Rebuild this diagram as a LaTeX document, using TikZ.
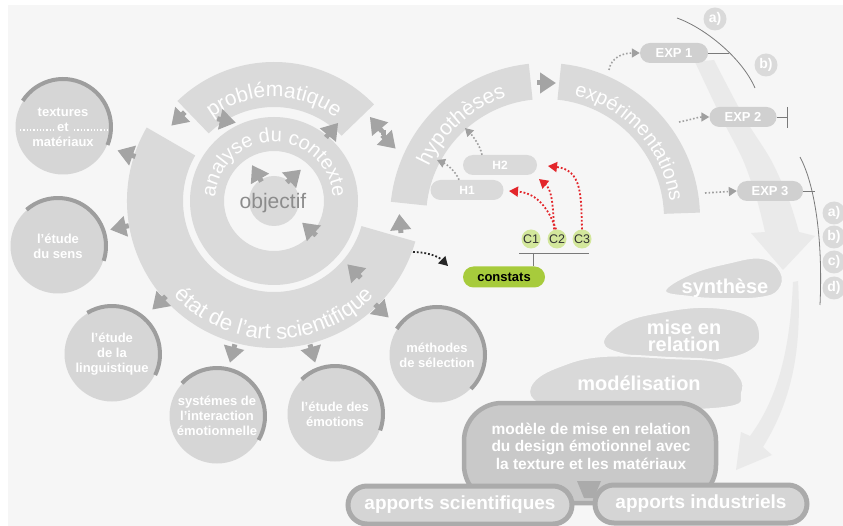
\documentclass[tikz,border=0pt]{standalone}
\usepackage{fontspec}
\setmainfont{Liberation Sans}
\usetikzlibrary{arrows.meta,decorations.text,shapes.misc,calc}
\definecolor{bgc}{HTML}{F6F6F6}
\definecolor{ringc}{HTML}{DADADA}
\definecolor{circc}{HTML}{D6D6D6}
\definecolor{accentc}{HTML}{9E9E9E}
\definecolor{arrc}{HTML}{A4A4A4}
\definecolor{pillc}{HTML}{D0D0D0}
\definecolor{blobc}{HTML}{D9D9D9}
\definecolor{modfill}{HTML}{C9C9C9}
\definecolor{modline}{HTML}{ABABAB}
\definecolor{appfill}{HTML}{D5D5D5}
\definecolor{lightarr}{HTML}{EAEAEA}
\definecolor{objc}{HTML}{8C8C8C}
\definecolor{redc}{HTML}{E3262B}
\definecolor{greenc}{HTML}{A7CB3C}
\definecolor{lgreen}{HTML}{D3E79C}
\definecolor{linec}{HTML}{7A7A7A}
\definecolor{dotc}{HTML}{A0A0A0}
\newcommand{\myfs}[2]{\fontsize{#1}{#2}\selectfont}
\newcommand{\garr}[3]{\draw[garrow,shift={(#1,#2)},rotate=#3] (-11,0) -- (8,0);}
\begin{document}
\begin{tikzpicture}[x=1pt,y=-1pt,
  garrow/.style={arrc,line width=5pt,-{Triangle[width=20pt,length=16pt]}},
  circlabel/.style={circle,fill=circc,minimum size=95pt,inner sep=0pt,text=white,font=\bfseries\myfs{13}{15},align=center},
  accarc/.style={accentc,line width=4pt},
  pill/.style={rounded rectangle,fill=pillc,text=white,font=\bfseries\myfs{13}{13},inner sep=0pt,minimum height=20pt},
  gdot/.style={dotc,line width=1.6pt,dotted,-{Triangle[width=9pt,length=8pt]}},
  rdot/.style={redc,line width=1.8pt,dotted,-{Triangle[width=10pt,length=9pt]}},
  bdot/.style={black!85,line width=1.8pt,dotted,-{Triangle[width=10pt,length=9pt]}},
  thinl/.style={linec,line width=0.8pt},
  lettc/.style={circle,fill=ringc,minimum size=23pt,inner sep=0pt,text=white,font=\bfseries\myfs{14}{14}},
  blobtext/.style={text=white,font=\bfseries\myfs{20}{17},align=center,inner sep=0pt},
  appbox/.style={rounded rectangle,draw=modline,line width=5pt,fill=appfill,minimum height=38pt,text=white,font=\bfseries\myfs{19}{19},inner sep=0pt},
  blob/.style={fill=blobc,draw=bgc,line width=2pt}
]
\useasboundingbox (0,0) rectangle (843,526);
\fill[bgc] (0,0) rectangle (843,526);
\fill[white] (0,0) rectangle (843,5);
\fill[white] (0,0) rectangle (8,526);

% light arrows on the right
\fill[lightarr] plot[smooth] coordinates {(695,62) (721,117) (743,160) (757,200) (765,232)} -- (751,233) -- (783,270) -- (815,236) -- (799,232) -- plot[smooth] coordinates {(799,232) (789,200) (771,160) (744,117) (714,60)} -- cycle;
\fill[lightarr] (798,281) .. controls (802,350) and (792,400) .. (763,447) -- (772,455) -- (736,470) -- (741,432) -- (750,436) .. controls (778,398) and (790,350) .. (793,282) -- cycle;

% concentric rings
\begin{scope}[shift={(274,201)}]
  \fill[ringc] (0,0) circle[radius=25];
  \fill[ringc,even odd rule] (0,0) circle[radius=84] (0,0) circle[radius=50];
  \fill[ringc] (-134:139) arc[start angle=-134,end angle=-44,radius=139] -- (-44:94) arc[start angle=-44,end angle=-134,radius=94] -- cycle;
  \fill[ringc] (-150:147) arc[start angle=-150,end angle=-344,radius=147] -- (-344:91) arc[start angle=-344,end angle=-150,radius=91] -- cycle;
  \path[decorate,decoration={text along path,text align=center,text={|\myfs{21}{21}\color{white}|problématique}}] (-140:104) arc[start angle=-140,end angle=-40,radius=104];
  \path[decorate,decoration={text along path,text align=center,text={|\myfs{20}{20}\color{white}|analyse du contexte}}] (-190:59) arc[start angle=-190,end angle=10,radius=59];
  \path[decorate,decoration={text along path,text align=center,text={|\myfs{22}{22}\color{white}|état de l’art scientifique}}] (-200:138) arc[start angle=-200,end angle=-340,radius=138];
\end{scope}
\node[text=objc,font=\myfs{21}{21},inner sep=0pt] (obj) at (273,203) {objectif};

% hypotheses / experimentations arc
\begin{scope}[shift={(545,218)}]
  \fill[ringc] (-174:155) arc[start angle=-174,end angle=-96,radius=155] -- (-96:119) arc[start angle=-96,end angle=-174,radius=119] -- cycle;
  \fill[ringc] (-84:155) arc[start angle=-84,end angle=-2,radius=155] -- (-2:119) arc[start angle=-2,end angle=-84,radius=119] -- cycle;
  \path[decorate,decoration={text along path,text align=center,text={|\myfs{21}{21}\color{white}|hypothèses}}] (-176:127) arc[start angle=-176,end angle=-88,radius=127];
  \path[decorate,decoration={text along path,text align=center,text={|\myfs{20}{20}\color{white}|expérimentations}}] (-86:126) arc[start angle=-86,end angle=2,radius=126];
\end{scope}

% satellite circles
\node[circlabel] (tex) at (63,127) {textures\\et\\matériaux};
\node[circlabel] (sens) at (58,246) {l’étude\\du sens};
\node[circlabel] (ling) at (112,354) {l’étude\\de la\\linguistique};
\node[circlabel] (sys) at (217,416) {systémes de\\l’interaction\\émotionnelle};
\node[circlabel] (emo) at (335,414) {l’étude des\\émotions};
\node[circlabel] (meth) at (437,355) {méthodes\\de sélection};
\draw[white,line width=1.3pt,dotted] (20,130) -- (54,130) (74,130) -- (109,130);
\draw[accarc] (tex.center) ++(-147:48) arc[start angle=-147,end angle=22,radius=48];
\draw[accarc] (sens.center) ++(-131:48) arc[start angle=-131,end angle=18,radius=48];
\draw[accarc] (ling.center) ++(-121:48) arc[start angle=-121,end angle=26,radius=48];
\draw[accarc] (sys.center) ++(-137:48) arc[start angle=-137,end angle=30,radius=48];
\draw[accarc] (emo.center) ++(-134:48) arc[start angle=-134,end angle=20,radius=48];
\draw[accarc] (meth.center) ++(-147:48) arc[start angle=-147,end angle=45,radius=48];

% grey triangle arrows
\garr{125}{153}{161}
\garr{118}{228}{192}
\garr{158}{304}{224}
\garr{232}{355}{255}
\garr{313}{355}{286}
\garr{383}{312}{316}
\garr{177}{120}{225}
\garr{228}{121}{-12}
\garr{333}{129}{50}
\garr{375}{123}{130}
\garr{390}{143}{-45}
\fill[arrc] (381,130) rectangle (386,135);
\garr{256}{172}{120}
\garr{295}{175}{42}
\garr{308}{228}{138}
\garr{353}{270}{135}
\garr{400}{222}{95}
\garr{548}{83}{0}

% hypotheses pills, constats
\node[pill,fill=ringc,minimum width=73pt,font=\bfseries\myfs{12}{12}] (h1) at (467,190) {H1};
\node[pill,fill=ringc,minimum width=74pt,font=\bfseries\myfs{12}{12}] (h2) at (500,165) {H2};
\node[rounded rectangle,fill=greenc,minimum width=82pt,minimum height=21pt,inner sep=0pt,font=\bfseries\myfs{13}{13}] (const) at (504,277) {constats};
\node[circle,fill=lgreen,minimum size=19pt,inner sep=0pt,font=\myfs{12.5}{12.5},text=black!80] (c1) at (531,239) {C1};
\node[circle,fill=lgreen,minimum size=19pt,inner sep=0pt,font=\myfs{12.5}{12.5},text=black!80] (c2) at (557,239) {C2};
\node[circle,fill=lgreen,minimum size=19pt,inner sep=0pt,font=\myfs{12.5}{12.5},text=black!80] (c3) at (582,239) {C3};
\coordinate (brl) at (519,253);
\coordinate (brr) at (589,253);
\coordinate (brv) at (533,253);
\draw[thinl] (brl) -- (brr);
\draw[thinl] (brv) -- (brv |- const.north);

\coordinate (h1t) at (437,160);
\coordinate (h2t) at (465,128);
\draw[gdot] ([xshift=-8pt]h1.north) .. controls (455,170) and (446,164) .. (h1t);
\draw[gdot] ([xshift=-18pt]h2.north) .. controls (480,145) and (472,135) .. (h2t);
\coordinate (r1) at (509,191);
\coordinate (r2) at (539,179);
\coordinate (r3) at (548,166);
\draw[rdot] ([xshift=-1pt]c2.north) .. controls (549,210) and (538,193) .. (r1);
\draw[rdot] ([xshift=-3pt]c2.north) .. controls (553,205) and (552,190) .. (r2);
\draw[rdot] (c3.north) .. controls (581,195) and (582,170) .. (r3);
\coordinate (bk1) at (413,252);
\coordinate (bk2) at (448,266);
\draw[bdot] (bk1) .. controls (426,252) and (438,256) .. (bk2);

% experiments
\node[pill,minimum width=68pt] (exp1) at (674,53) {EXP 1};
\node[pill,minimum width=67pt] (exp2) at (743,117) {EXP 2};
\node[pill,minimum width=66pt] (exp3) at (770,191) {EXP 3};
\coordinate (e1s) at (609,70);
\coordinate (e2s) at (679,122);
\coordinate (e3s) at (705,193);
\draw[gdot] (e1s) .. controls (611,58) and (622,53) .. (exp1.west);
\draw[gdot] (e2s) .. controls (690,120) and (698,117) .. (exp2.west);
\draw[gdot] (e3s) -- (exp3.west);
\coordinate (arc1) at (729,53);
\coordinate (t2) at (787,117);
\coordinate (arc3) at (815,191);
\coordinate (t2a) at (787,107);
\coordinate (t2b) at (787,128);
\draw[thinl] (exp1.east) -- (arc1);
\draw[thinl] (exp2.east) -- (t2);
\draw[thinl] (t2a) -- (t2b);
\draw[thinl] (exp3.east) -- (arc3);
\draw[thinl] (677,18) .. controls (705,28) and (742,58) .. (755,88);
\draw[thinl] (800,157) .. controls (815,185) and (823,240) .. (820,305);
\node[lettc] (la) at (715,19) {a)};
\node[lettc] (lb) at (766,65) {b)};
\node[lettc] (ra) at (834,213) {a)};
\node[lettc] (rb) at (834,237) {b)};
\node[lettc] (rc) at (834,262) {c)};
\node[lettc] (rd) at (834,288) {d)};

% synthesis blobs
\fill[blob] plot[smooth cycle,tension=0.7] coordinates {(665,291) (690,274) (727,263) (762,258) (781,272) (779,290) (760,298) (720,299) (690,297)};
\fill[blob] plot[smooth cycle,tension=0.7] coordinates {(603,343) (622,323) (660,312) (708,307) (748,315) (760,333) (752,350) (720,360) (670,362) (625,355)};
\fill[blob] plot[smooth cycle,tension=0.7] coordinates {(533,382) (560,366) (603,356) (670,358) (720,362) (740,377) (742,393) (730,407) (650,410) (560,405) (533,400)};
\node[blobtext] (syn) at (725,288) {synthèse};
\node[blobtext] (mer) at (684,336) {mise en\\relation};
\node[blobtext] (mdl) at (639,383) {modélisation};

% model box and outputs
\node[draw=modline,line width=4.5pt,fill=modfill,rounded corners=38pt,minimum width=252pt,minimum height=100pt] (modele) at (590,453) {};
\node[text=white,font=\bfseries\myfs{15.5}{17.5},align=center] (modtxt) at (591,446) {modèle de mise en relation\\du design émotionnel avec\\la texture et les matériaux};
\fill[modline] (577,481) -- (601,481) -- (594,498) -- (584,498) -- cycle;
\node[appbox,minimum width=224pt] (as) at (460,505) {apports scientifiques};
\node[appbox,minimum width=212pt] (ai) at (701,504) {apports industriels};
\end{tikzpicture}
\end{document}
